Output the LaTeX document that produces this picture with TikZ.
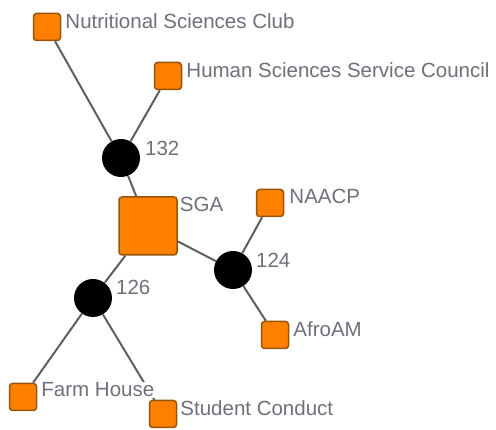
\documentclass[tikz,border=0pt]{standalone}
\usepackage{fontspec}
\setmainfont{Liberation Sans}
\usepackage{tikz}
\usetikzlibrary{positioning,calc}

\definecolor{orgfill}{RGB}{255,128,0}
\definecolor{orgline}{RGB}{150,85,10}
\definecolor{linkgray}{RGB}{95,95,95}
\definecolor{txtgray}{RGB}{112,112,124}

\tikzset{
  org/.style={rectangle, rounded corners=3pt, fill=orgfill, draw=orgline, line width=1.5pt, minimum size=27pt, inner sep=0pt},
  bigorg/.style={org, minimum size=58pt},
  hub/.style={circle, fill=black, minimum size=38pt, inner sep=0pt},
  link/.style={draw=linkgray, line width=2pt},
  lbl/.style={anchor=west, text=txtgray, inner sep=1pt, fill=white, font=\fontsize{20.5}{22}\selectfont}
}

\begin{document}
\begin{tikzpicture}[x=1pt,y=-1pt]
\useasboundingbox (0,0) rectangle (496,430);
\node[org] (nsc) at (47,27) {};
\node[org] (hssc) at (168,76) {};
\node[hub] (h132) at (121,158) {};
\node[bigorg] (sga) at (148,226) {};
\node[org] (naacp) at (270,203) {};
\node[hub] (h124) at (233,270) {};
\node[org] (afro) at (275,335) {};
\node[hub] (h126) at (93,298) {};
\node[org] (farm) at (23,397) {};
\node[org] (stud) at (163,414) {};
\draw[link] (nsc) -- (h132); % club -- 132
\draw[link] (hssc) -- (h132);
\draw[link] (h132) -- (sga);
\draw[link] (sga) -- (h124); % SGA -- 124
\draw[link] (h124) -- (naacp);
\draw[link] (h124) -- (afro);
\draw[link] (sga) -- (h126); % SGA -- 126
\draw[link] (h126) -- (farm);
\draw[link] (h126) -- (stud);
\node[lbl] (nscl) at ($(nsc.north east)+(3,8)$) {Nutritional Sciences Club};
\node[lbl] (hsscl) at ($(hssc.north east)+(3,8)$) {Human Sciences Service Council};
\node[lbl] (h132l) at ($(h132.center)+(23,-10)$) {132};
\node[lbl] (sgal) at ($(sga.north east)+(1,8)$) {SGA};
\node[lbl] (naacpl) at ($(naacp.north east)+(4,8)$) {NAACP};
\node[lbl] (h124l) at ($(h124.center)+(22,-10)$) {124};
\node[lbl] (afrol) at ($(afro.north east)+(3,8)$) {AfroAM};
\node[lbl] (h126l) at ($(h126.center)+(22,-11)$) {126};
\node[lbl] (farml) at ($(farm.north east)+(3,7)$) {Farm House};
\node[lbl] (studl) at ($(stud.north east)+(2,8)$) {Student Conduct};
\end{tikzpicture}
\end{document}
